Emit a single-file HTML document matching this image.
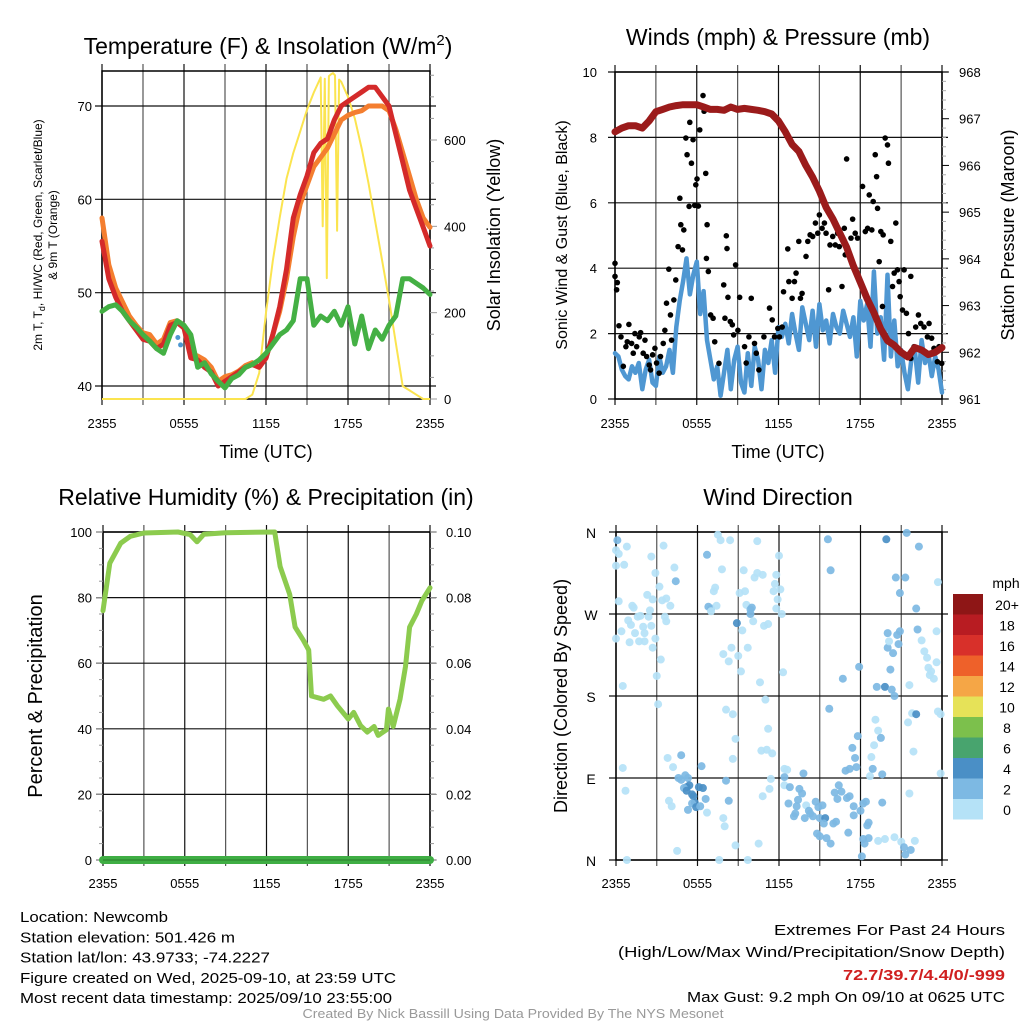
<!DOCTYPE html>
<html><head><meta charset="utf-8"><style>
html,body{margin:0;padding:0;background:#fff;}
svg{display:block;font-family:"Liberation Sans",sans-serif;}
</style></head><body>
<svg id="chart" width="1024" height="1024" viewBox="0 0 1024 1024" xmlns="http://www.w3.org/2000/svg">
<g id="grids"></g>
<g id="marks"></g>
<g id="labels"></g>
</svg>
<script>
// ---------- DATA ----------
const timeTicks = ["2355","0555","1155","1755","2355"];
const halfHours = []; for (let i=0;i<=48;i++) halfHours.push(i*0.5);
const quarterHours = []; for (let i=0;i<=96;i++) quarterHours.push(i*0.25);

const tempRed = [55.5,51.5,49.5,48,47,46,45,44.8,44,44.5,46.5,46.8,46.2,43,42.8,42,41.5,40,40.5,41,41.5,42,42.3,42,43,45.5,48.5,52.5,58,60.5,62.5,65,66,66.5,68.5,70,70.5,71,71.5,72,72,71,70,67,64,61,59,57,55];
const tempOrange = [58,53,50.5,49,47.5,46.5,45.7,45.5,44.5,45,46.8,47,46.5,43.5,43.2,42.8,42,40.5,41,41.2,41.6,42.2,42.5,42,43,45.5,48,51.5,56,59.5,61.5,63.5,64.5,65.5,67,68.5,69,69.3,69.5,70,70,70,69.5,67.5,65,62.5,60,58,57];
const tempGreen = [48,48.5,48.7,48,47,46.3,45.5,44.8,44,43.5,45.5,47,46.5,45.5,42,42.5,41.3,40.5,39.8,40.8,41.2,42,42.3,42.8,43.5,44.5,45.5,46,47,51.5,51.5,46.5,47.5,47,48,46.5,48.5,44.5,47.5,44,46,45,46.5,47.5,51.5,51.5,51,50.5,49.8];
const hiwcHours = [5.55,5.75];
const hiwcValues = [45.2,44.4];
const solarHours = [0,10.5,11,11.5,12,12.5,13,13.5,14,14.5,15,15.5,16,16.15,16.3,16.45,16.6,16.75,16.9,17.05,17.2,17.35,17.5,18,18.5,19,19.5,20,20.5,21,21.5,22,22.5,23,23.5,24];
const solarValues = [0,0,10,60,200,320,420,510,570,620,670,710,745,400,742,280,748,752,755,750,390,740,735,700,650,580,500,410,320,230,130,30,20,10,0,0];

const windSpeed = [1.4,1.3,0.9,0.7,0.6,1.0,0.8,1.1,0.3,0.9,1.2,0.5,0.4,1.3,0.8,1.0,
1.5,0.8,2.2,3.0,3.6,4.3,3.2,3.8,4.2,2.6,3.3,1.8,
1.2,0.6,1.0,0.1,0.8,1.5,0.3,1.2,1.6,0.5,0.2,1.4,0.4,1.6,1.2,0.3,1.5,1.1,1.8,0.8,
2.2,1.9,2.3,1.7,2.6,2.0,1.5,2.8,2.3,1.8,2.7,1.6,2.9,2.1,2.4,1.7,2.6,2.2,2.0,2.7,2.3,1.9,2.5,1.3,3.0,2.4,2.9,1.6,3.9,2.0,2.5,1.2,3.8,1.3,2.4,1.0,
1.5,0.8,0.3,1.2,1.5,0.5,1.8,1.1,1.4,0.7,1.3,0.9,0.2];
const pressure = [966.72,966.8,966.85,966.85,966.8,966.95,967.15,967.2,967.25,967.28,967.3,967.3,967.3,967.25,967.2,967.2,967.18,967.25,967.2,967.22,967.2,967.18,967.15,967.1,966.95,966.72,966.45,966.3,966.0,965.75,965.45,965.1,964.85,964.55,964.25,963.85,963.5,963.15,962.85,962.5,962.25,962.15,962.0,961.9,962.1,962.05,961.95,962.0,962.1];
const gustHours = [0,0,0.17,0.12,0.29,0.44,0.61,0.8,1.02,0.9,1.22,1.34,1.46,1.59,1.78,1.88,2.07,2.2,2.32,2.51,2.61,2.76,2.93,3.05,3.24,3.34,3.54,3.66,3.78,3.95,4.07,4.15,4.32,4.46,4.63,4.76,4.83,4.95,5.05,5.2,5.29,5.44,5.49,5.61,5.73,5.85,5.93,6.02,6.12,6.22,6.46,6.54,6.66,6.71,6.76,6.85,7.02,7.2,7.32,7.63,7.98,8.07,8.17,8.22,8.29,8.46,8.61,8.71,8.85,9.02,9.15,9.51,9.63,9.83,10.0,10.24,10.37,10.56,10.93,11.34,11.54,11.71,11.95,12.07,12.27,12.37,12.68,12.76,13.0,13.17,13.29,13.49,13.61,13.73,14.02,14.15,14.32,14.51,14.71,14.88,15.0,15.2,15.37,15.49,15.68,15.78,15.98,16.17,16.34,16.46,16.66,16.83,16.9,17.0,17.32,17.44,17.63,17.8,18.17,18.37,18.54,18.66,18.85,18.95,19.1,19.2,19.27,19.39,19.51,19.63,19.68,19.83,20.0,20.07,20.24,20.37,20.49,20.61,20.73,20.85,20.93,21.1,21.22,21.39,21.54,21.71,21.71,21.95,22.07,22.27,22.44,22.68,22.93,23.05,23.24,23.41,23.66,23.78,23.98];
const gustValues = [4.15,3.75,3.56,3.34,2.24,1.9,1.0,1.6,2.28,1.75,1.7,1.4,2.0,1.6,1.9,2.03,1.4,1.8,1.3,1.04,0.89,1.35,1.55,1.1,0.79,1.3,1.7,2.1,2.93,3.97,2.57,1.8,3.03,3.64,4.66,6.14,5.33,4.56,5.17,7.98,7.47,5.89,8.46,7.21,7.93,5.92,6.55,6.73,5.9,8.23,9.28,8.8,6.9,4.3,5.33,3.9,2.57,2.47,1.75,1.09,3.49,2.47,4.99,4.6,3.11,2.37,2.27,1.96,4.1,2.1,3.11,1.6,1.1,1.9,3.08,1.7,1.4,0.89,1.9,2.78,2.42,1.9,2.16,1.9,2.2,3.28,4.59,3.59,3.08,3.59,3.85,4.82,3.08,3.23,4.36,4.82,5.02,4.97,5.38,5.07,5.63,5.22,5.38,5.07,3.34,4.71,4.97,4.71,5.07,4.66,3.44,5.22,4.41,7.34,4.92,5.5,5.07,4.92,6.5,5.12,5.22,6.24,5.17,6.04,7.47,6.8,5.83,4.2,5.12,2.83,5.02,7.98,7.77,7.21,4.82,3.44,3.85,5.38,3.95,3.59,3.13,2.72,3.95,2.62,2.0,3.75,1.24,1.6,2.2,2.57,2.31,2.2,1.9,2.31,1.86,1.55,1.14,1.6,1.09];

const rhHours = [0,0.5,1.3,2,3,5.5,6.4,6.9,7.4,9,12.6,13,13.7,14.1,14.7,15.1,15.3,16.2,16.7,17.2,18,18.4,18.9,19.4,19.9,20.2,20.8,20.95,21.3,21.8,22.2,22.5,23,23.4,24];
const rhValues = [76,90.5,96.6,98.7,99.7,100,99.2,97,99.3,99.8,100,89.5,81,71,67,64,50,49,50,47,43,45,41,39,40.7,38,39.7,46,40.7,49,59,71,75,79,83];
const precipHours = [0,24];
const precipValues = [0,0];

const dirHours = [0.1,0,0.2,0.8,0,0.6,0.2,0.4,0,1.0,1.2,1.3,0.9,1.1,1.4,1.6,1.8,2.0,2.1,1.7,2.1,2.3,2.5,2.4,2.6,2.6,2.9,2.7,2.7,2.9,3.2,3.4,3.6,3.7,3.5,3.7,4.0,3.3,3.0,3.1,0.5,0.5,0.7,0.8,4.3,4.4,3.8,4.2,4.5,3.9,4.1,4.8,4.6,4.8,5.1,5.3,5.2,5.4,5.0,5.2,5.6,5.7,5.8,5.6,5.9,6.2,5.3,6.1,6.4,6.6,6.3,6.7,6.7,6.8,7.0,7.2,7.3,7.0,7.4,7.5,7.7,8.4,7.8,7.9,8.3,8.5,8.1,8.6,8.8,8.6,8.1,8.3,7.9,8.0,8.8,7.6,9.7,8.9,9.0,9.2,9.3,9.1,9.4,9.5,9.6,9.7,9.9,10.0,9.9,10.1,10.2,10.4,10.4,10.6,10.8,10.9,11.2,11.0,11.2,10.7,11.1,11.5,11.4,11.3,10.8,10.5,11.6,11.7,11.8,11.9,12.0,12.1,11.8,12.2,12.3,12.4,12.6,12.4,12.4,12.8,12.7,13.5,13.7,13.4,13.3,13.2,13.1,13.8,14.0,14.2,13.9,14.3,14.5,14.7,14.9,15.2,15.0,15.4,15.3,15.5,14.8,15.0,15.8,16.0,16.2,16.1,16.4,16.3,16.6,16.7,15.6,15.8,15.7,16.9,17.2,17.7,17.6,17.4,17.8,17.9,17.0,17.2,17.5,17.5,17.1,18.0,18.2,18.4,18.5,18.6,18.2,18.3,18.6,18.1,18.7,18.9,18.8,19.0,19.1,19.3,19.5,19.6,19.6,19.2,19.8,20.3,20.5,20.2,20.4,20.0,20.1,20.0,20.8,20.7,20.9,19.9,20.6,20.9,21.3,21.4,22.3,22.1,22.2,22.5,22.7,22.9,23.6,23.6,23.0,23.2,23.1,23.4,23.7,21.5,21.8,22.1,21.9,21.6,23.7,23.9,23.9,21.6,19.3,19.8,20.5,21.0,21.2,21.3,21.7,22.0];
const dirDegrees = [351,340,336,344,323,324,284,251,243,239,279,277,263,258,249,267,268,256,249,240,240,291,274,267,257,333,315,286,233,243,300,285,267,262,345,287,279,220,202,171,191,101,76,0,321,306,112,102,10,65,59,115,90,88,93,90,80,82,79,76,72,70,63,62,58,59,55,80,79,67,103,52,335,278,276,295,299,273,279,357,351,351,319,226,218,233,165,160,133,111,87,65,46,37,16,0,0,260,224,207,252,293,318,295,280,233,275,277,270,262,310,315,350,195,313,257,259,176,144,120,121,117,89,78,70,18,295,303,313,286,334,297,276,270,206,100,99,91,82,80,62,78,73,66,59,51,48,95,60,54,46,51,48,64,58,60,46,46,40,24,29,26,18,40,42,74,82,67,75,199,352,318,166,98,100,102,112,123,136,212,68,70,59,49,30,54,62,64,38,41,23,18,24,4,92,100,113,126,154,142,134,94,63,190,190,187,180,209,227,233,240,249,237,247,251,352,310,293,310,359,344,276,253,241,229,222,251,217,211,207,203,199,305,151,161,160,119,192,163,160,95,73,21,23,25,20,14,6,11,21];
const dirSpeed = [3,1,1,1,1,1,1,1,1,1,1,1,1,1,1,1,1,1,1,1,1,1,1,1,1,1,1,1,1,1,1,1,1,1,1,1,1,1,1,1,1,1,1,1,1,3,1,1,1,1,1,3,3,3,3,3,4.5,4.5,3,4.5,4.5,4.5,4.5,3,4.5,3,3,4.5,4.5,3,3,1,3,3,3,1,1,1,1,1,1,1,1,1,1,1,1,1,1,1,3,3,1,1,1,1,1,4.5,1,1,1,1,1,1,1,1,3,3,3,1,1,1,1,1,1,1,1,1,1,1,1,1,1,1,1,1,1,1,1,1,1,1,1,1,1,1,1,3,1,3,3,3,3,3,3,3,3,3,1,3,3,3,3,3,3,3,3,4.5,3,3,3,3,3,3,3,3,3,3,3,3,3,3,3,3,3,3,3,3,3,3,3,3,3,3,3,3,3,3,3,3,3,3,3,3,1,3,1,1,1,1,3,3,3,3,4.5,3,3,3,3,3,1,3,3,3,3,4.5,3,3,3,3,3,3,3,1,1,1,1,1,1,1,1,1,1,1,1,4.5,1,1,1,1,1,1,1,1,1,1,3,3,3,1,4.5,1,1];

const legendLabels = ["20+","18","16","14","12","10","8","6","4","2","0"];
const legendColors = ["#8e1616","#b81c22","#d8302a","#ee612a","#f5a646","#e6e258","#7cc04c","#48a46e","#4a8fc6","#7db9e3","#b5e2f7"];

// ---------- HELPERS ----------
const NS="http://www.w3.org/2000/svg";
function mk(parent,tag,attrs,text){const e=document.createElementNS(NS,tag);for(const k in attrs)e.setAttribute(k,attrs[k]);if(text!==undefined)e.textContent=text;parent.appendChild(e);return e;}
const G=document.getElementById('grids'),M=document.getElementById('marks'),L=document.getElementById('labels');
function lin(d0,d1,r0,r1){return v=>r0+(v-d0)*(r1-r0)/(d1-d0);}
function pathD(xs,ys,fx,fy){return xs.map((x,i)=>(i?'L':'M')+fx(x).toFixed(1)+','+fy(ys[i]).toFixed(1)).join('');}

function panelFrame(name,x0,x1,y0,y1,hLines,vLines){
  const g=mk(G,'g',{});
  
  
  vLines.forEach((x,i)=>{mk(g,'line',{x1:x,x2:x,y1:y0-7,y2:y1+6,stroke:(i%2?'#555':'#111'),'stroke-width':1.2});});
  hLines.forEach(y=>{mk(g,'line',{x1:x0-7,x2:x1+6,y1:y,y2:y,stroke:'#111','stroke-width':1.2});});
  mk(g,'rect',{x:x0,y:y0,width:x1-x0,height:y1-y0,fill:'none',stroke:'#000','stroke-width':1.5});
}
function txt(name,x,y,s,size,anchor,extra){const e=mk(L,'text',Object.assign({x:x,y:y,'font-size':size,'text-anchor':anchor||'middle',fill:'#000'},extra||{}),s);return e;}
function vtxt(name,x,y,s,size){const e=mk(L,'text',{x:0,y:0,'font-size':size,'text-anchor':'middle',fill:'#000',transform:`translate(${x},${y}) rotate(-90)`},s);return e;}
function timeAxis(x0,x1,y){const fx=lin(0,24,x0,x1);timeTicks.forEach((t,i)=>{txt('x-tick-label',fx(i*6),y,t,13);});}

// ---------- PANEL 1: TEMPERATURE ----------
(function(){
  const x0=102,x1=430,y0=71,y1=399;
  const fx=lin(0,24,x0,x1), fy=lin(40,70,386,106), fs=lin(0,600,399,140);
  const v=[];for(let k=0;k<=8;k++)v.push(fx(k*3));
  panelFrame('temperature-panel',x0,x1,y0,y1,[40,50,60,70].map(fy),v);
  for(let s=0;s<=750;s+=50){mk(G,'line',{x1:x1,x2:x1+(s%200===0?7:4),y1:fs(s),y2:fs(s),stroke:'#999','stroke-width':1});}
  const sol=mk(M,'path',{d:pathD(solarHours,solarValues,fx,fs),fill:'none',stroke:'#fbe44f','stroke-width':2,'stroke-linejoin':'round'});
  
  const o=mk(M,'path',{d:pathD(halfHours,tempOrange,fx,fy),fill:'none',stroke:'#f47e2f','stroke-width':5,'stroke-linejoin':'round','stroke-linecap':'round'});
  
  const r=mk(M,'path',{d:pathD(halfHours,tempRed,fx,fy),fill:'none',stroke:'#d42a2a','stroke-width':5,'stroke-linejoin':'round','stroke-linecap':'round'});
  
  const g=mk(M,'path',{d:pathD(halfHours,tempGreen,fx,fy),fill:'none',stroke:'#44b044','stroke-width':5,'stroke-linejoin':'round','stroke-linecap':'round'});
  
  hiwcHours.forEach((h,i)=>{const c=mk(M,'circle',{cx:fx(h),cy:fy(hiwcValues[i]),r:2.5,fill:'#4d97d1'});});
  [40,50,60,70].forEach(t=>txt('y-tick-label',92,fy(t)+5,String(t),13,'end'));
  [0,200,400,600].forEach(s=>txt('y2-tick-label',444,fs(s)+5,String(s),13,'start'));
  timeAxis(x0,x1,428);
  txt('x-axis-title',266,458,'Time (UTC)',18);
  const t=txt('temperature-title',268,54,'Temperature (F) & Insolation (W/m',23);
  mk(t,'tspan',{'font-size':15,dy:-9},'2');mk(t,'tspan',{dy:9},')');
  const a=vtxt('temperature-y-axis-title',42,235,'',12);
  mk(a,'tspan',{x:0,dy:0},'2m T, T');mk(a,'tspan',{'font-size':9,dy:3},'d');mk(a,'tspan',{dy:-3},', HI/WC (Red, Green, Scarlet/Blue)');
  vtxt('temperature-y-axis-title-2',57,235,'& 9m T (Orange)',12);
  vtxt('solar-y-axis-title',500,235,'Solar Insolation (Yellow)',18);
})();

// ---------- PANEL 2: WINDS ----------
(function(){
  const x0=615,x1=942,y0=72,y1=399;
  const fx=lin(0,24,x0,x1), fy=lin(0,10,399,72), fp=lin(961,968,399,72);
  const v=[];for(let k=0;k<=8;k++)v.push(fx(k*3));
  panelFrame('winds-panel',x0,x1,y0,y1,[0,2,4,6,8,10].map(fy),v);
  for(let p=961;p<=968.01;p+=0.2){const major=Math.abs(p-Math.round(p))<0.01;mk(G,'line',{x1:x1,x2:x1+(major?7:4),y1:fp(p),y2:fp(p),stroke:major?'#000':'#aaa','stroke-width':1});}
  const w=mk(M,'path',{d:pathD(quarterHours,windSpeed,fx,fy),fill:'none',stroke:'#4f97d2','stroke-width':4.5,'stroke-linejoin':'round','stroke-linecap':'round'});
  
  gustHours.forEach((h,i)=>{const c=mk(M,'circle',{cx:fx(h),cy:fy(gustValues[i]),r:2.8,fill:'#000'});
    
    });
  const p=mk(M,'path',{d:pathD(halfHours,pressure,fx,fp),fill:'none',stroke:'#9b1b1b','stroke-width':7,'stroke-linejoin':'round','stroke-linecap':'round'});
  
  [0,2,4,6,8,10].forEach(t=>txt('y-tick-label',597,fy(t)+5,String(t),13,'end'));
  [961,962,963,964,965,966,967,968].forEach(s=>txt('y2-tick-label',959,fp(s)+5,String(s),13,'start'));
  timeAxis(x0,x1,428);
  txt('x-axis-title',778,458,'Time (UTC)',18);
  txt('winds-title',778,45,'Winds (mph) & Pressure (mb)',23);
  vtxt('wind-y-axis-title',567,235,'Sonic Wind & Gust (Blue, Black)',16);
  vtxt('pressure-y-axis-title',1014,235,'Station Pressure (Maroon)',18);
})();

// ---------- PANEL 3: RH ----------
(function(){
  const x0=103,x1=430,y0=532,y1=860;
  const fx=lin(0,24,x0,x1), fy=lin(0,100,860,532);
  const v=[];for(let k=0;k<=8;k++)v.push(fx(k*3));
  panelFrame('humidity-panel',x0,x1,y0,y1,[0,20,40,60,80,100].map(fy),v);
  for(let s=0;s<=100;s+=5){mk(G,'line',{x1:x1,x2:x1+(s%20===0?7:4),y1:fy(s),y2:fy(s),stroke:'#999','stroke-width':1});mk(G,'line',{x1:x0-(s%20===0?7:4),x2:x0,y1:fy(s),y2:fy(s),stroke:'#999','stroke-width':1});}
  const rh=mk(M,'path',{d:pathD(rhHours,rhValues,fx,fy),fill:'none',stroke:'#8ccb4e','stroke-width':5,'stroke-linejoin':'round','stroke-linecap':'round'});
  
  const fpp=lin(0,0.1,860,532);
  const pr=mk(M,'path',{d:pathD(precipHours,precipValues,fx,fpp),fill:'none',stroke:'#3fae44','stroke-width':8,'stroke-linecap':'round'});
  
  mk(M,'line',{x1:x0,x2:x1,y1:860,y2:860,stroke:'#2a7a2a','stroke-width':1});
  [0,20,40,60,80,100].forEach(t=>txt('y-tick-label',92,fy(t)+5,String(t),13,'end'));
  ['0.00','0.02','0.04','0.06','0.08','0.10'].forEach((s,i)=>txt('y2-tick-label',446,fy(i*20)+5,s,13,'start'));
  timeAxis(x0,x1,888);
  txt('humidity-title',266,505,'Relative Humidity (%) & Precipitation (in)',23);
  vtxt('humidity-y-axis-title',42,696,'Percent & Precipitation',20);
})();

// ---------- PANEL 4: WIND DIRECTION ----------
(function(){
  const x0=616,x1=942,y0=532,y1=860;
  const fx=lin(0,24,x0,x1), fy=lin(0,360,860,532);
  const v=[];for(let k=0;k<=8;k++)v.push(fx(k*3));
  panelFrame('wind-direction-panel',x0,x1,y0,y1,[0,90,180,270,360].map(fy),v);
  const colFor=s=>s<2?'#b5e2f7':s<4?'#7db9e3':'#4a8fc6';
  dirHours.forEach((h,i)=>{const c=mk(M,'circle',{cx:fx(h),cy:fy(dirDegrees[i]),r:4,fill:colFor(dirSpeed[i]),'fill-opacity':0.92});
    
    });
  ['N','E','S','W','N'].forEach((s,i)=>txt('y-tick-label',591,fy(i*90)+6,s,14));
  timeAxis(x0,x1,888);
  txt('wind-direction-title',778,505,'Wind Direction',23);
  vtxt('direction-y-axis-title',567,696,'Direction (Colored By Speed)',18);
  const lg=mk(L,'g',{});
  
  
  txt('legend-title',1006,588,'mph',14);
  legendColors.forEach((c,i)=>{const r=mk(lg,'rect',{x:953,y:594+i*20.5,width:30,height:20.5,fill:c});
    
    
    txt('legend-label',1007,594+i*20.5+16,legendLabels[i],14);});
})();

// ---------- FOOTER ----------
const info=["Location: Newcomb","Station elevation: 501.426 m","Station lat/lon: 43.9733; -74.2227","Figure created on Wed, 2025-09-10, at 23:59 UTC","Most recent data timestamp: 2025/09/10 23:55:00"];
const infoLen=[148,215,250,376,372];
info.forEach((s,i)=>txt('station-info-line',20,922+i*20.3,s,15,'start',{textLength:infoLen[i],lengthAdjust:'spacingAndGlyphs'}));
txt('extremes-heading',1005,935,'Extremes For Past 24 Hours',15,'end',{textLength:231,lengthAdjust:'spacingAndGlyphs'});
txt('extremes-legend',1005,957,'(High/Low/Max Wind/Precipitation/Snow Depth)',15,'end',{textLength:387,lengthAdjust:'spacingAndGlyphs'});
txt('extremes-values',1005,980,'72.7/39.7/4.4/0/-999',15,'end',{fill:'#d02020','font-weight':'bold',textLength:162,lengthAdjust:'spacingAndGlyphs'});
txt('max-gust',1005,1002,'Max Gust: 9.2 mph On 09/10 at 0625 UTC',15,'end',{textLength:318,lengthAdjust:'spacingAndGlyphs'});
txt('credits',513,1018,'Created By Nick Bassill Using Data Provided By The NYS Mesonet',13,'middle',{fill:'#999',textLength:421,lengthAdjust:'spacingAndGlyphs'});
</script>
</body></html>
